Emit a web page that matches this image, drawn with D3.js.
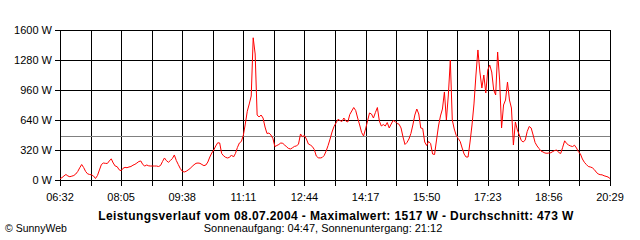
<!DOCTYPE html>
<html>
<head>
<meta charset="utf-8">
<script src="https://cdn.jsdelivr.net/npm/d3@7"></script>
<style>
  body { margin: 0; background: #fff; }
  text { font-family: "Liberation Sans", Arial, sans-serif; }
</style>
</head>
<body>
<svg id="chart"></svg>
<script>
// power readings in W, one every 3 minutes starting 06:32
const startTime = "06:32"
const stepMinutes = 3
const power = [
  14, 25, 43, 59, 43, 35, 41, 48, 64, 91, 130, 165, 133, 91, 66, 59, 55, 43, 16, 48,
  107, 165, 181, 178, 176, 203, 226, 181, 149, 142, 109, 99, 125, 135, 131, 139, 144, 158, 167, 181,
  197, 203, 165, 149, 160, 151, 149, 149, 149, 149, 144, 155, 197, 235, 206, 189, 208, 229, 267, 208,
  165, 123, 94, 85, 93, 107, 123, 144, 163, 178, 181, 178, 165, 153, 160, 192, 245, 288, 320, 363,
  397, 395, 283, 258, 242, 235, 242, 267, 245, 283, 347, 395, 411, 477, 597, 733, 811, 896, 1517, 1344,
  693, 672, 693, 661, 565, 496, 501, 480, 443, 357, 368, 379, 395, 391, 373, 352, 336, 331, 345, 359,
  363, 384, 491, 462, 475, 437, 384, 373, 357, 325, 256, 237, 235, 240, 261, 309, 368, 437, 512, 571,
  608, 647, 635, 624, 661, 629, 619, 699, 736, 773, 741, 661, 587, 507, 469, 544, 629, 715, 704, 661,
  720, 773, 629, 576, 592, 576, 613, 555, 597, 635, 624, 603, 595, 555, 459, 379, 400, 437, 496, 587,
  693, 757, 704, 555, 549, 405, 368, 411, 389, 277, 272, 427, 576, 683, 757, 939, 640, 907, 1280, 640,
  544, 475, 443, 411, 341, 277, 245, 245, 405, 587, 811, 1120, 1387, 1152, 981, 1120, 928, 1173, 1227, 1152,
  960, 907, 1365, 1067, 555, 800, 853, 1045, 853, 768, 373, 619, 533, 480, 421, 405, 427, 517, 571, 555,
  480, 400, 363, 336, 309, 299, 288, 285, 288, 291, 304, 315, 320, 293, 283, 349, 418, 389, 373, 363,
  357, 371, 341, 301, 277, 224, 189, 165, 144, 139, 131, 112, 85, 64, 57, 55, 45, 39, 32, 16
]
const yTicks = [0, 320, 640, 960, 1280, 1600]
const xTickLabels = ["06:32", "08:05", "09:38", "11:11", "12:44", "14:17", "15:50", "17:23", "18:56", "20:29"]
const average = 473
const maximum = 1517
const title = "Leistungsverlauf vom 08.07.2004 - Maximalwert: " + maximum + " W - Durchschnitt: " + average + " W"
const subtitle = "Sonnenaufgang: 04:47, Sonnenuntergang: 21:12"
const credit = "\u00A9 SunnyWeb"

const width = 640, height = 240
const plotL = 60, plotR = 610, plotT = 30, plotB = 180

const parseT = d3.timeParse("%H:%M")
const t0 = parseT(startTime)
const data = power.map((v, i) => ({ t: d3.timeMinute.offset(t0, i * stepMinutes), v }))
const tEnd = parseT(xTickLabels[xTickLabels.length - 1])

const x = d3.scaleTime().domain([t0, tEnd]).range([plotL, plotR])
const y = d3.scaleLinear().domain([0, 1600]).range([plotB, plotT])

// grid every 46.5 min, labels on every second line
const gridTimes = d3.range(0, 19).map(k => new Date(t0.getTime() + k * 46.5 * 60000))

const svg = d3.select("#chart")
  .attr("width", width)
  .attr("height", height)
  .attr("viewBox", [0, 0, width, height])

svg.append("rect").attr("width", width).attr("height", height).attr("fill", "#fff")

const grid = svg.append("g").attr("shape-rendering", "crispEdges")
grid.selectAll(".h")
  .data(yTicks)
  .join("line")
    .attr("x1", plotL - 5)
    .attr("x2", plotR)
    .attr("y1", d => Math.round(y(d)) + 0.5)
    .attr("y2", d => Math.round(y(d)) + 0.5)
    .attr("stroke", "#000")
grid.selectAll(".v")
  .data(gridTimes)
  .join("line")
    .attr("x1", d => Math.round(x(d)) + 0.5)
    .attr("x2", d => Math.round(x(d)) + 0.5)
    .attr("y1", plotT)
    .attr("y2", plotB + 6)
    .attr("stroke", "#000")

svg.append("line")
  .attr("shape-rendering", "crispEdges")
  .attr("x1", plotL + 1).attr("x2", plotR)
  .attr("y1", Math.round(y(average)) + 0.5).attr("y2", Math.round(y(average)) + 0.5)
  .attr("stroke", "#808080")

svg.selectAll(".ylab")
  .data(yTicks)
  .join("text")
    .attr("x", 52)
    .attr("y", d => y(d) + 4)
    .attr("text-anchor", "end")
    .attr("font-size", 11)
    .text(d => d + " W")

svg.selectAll(".xlab")
  .data(xTickLabels)
  .join("text")
    .attr("x", d => x(parseT(d)))
    .attr("y", 201)
    .attr("text-anchor", "middle")
    .attr("font-size", 11)
    .text(d => d)

const line = d3.line()
  .x(d => x(d.t))
  .y(d => y(d.v))

svg.append("path")
  .datum(data)
  .attr("d", line)
  .attr("fill", "none")
  .attr("stroke", "#ff0000")
  .attr("stroke-width", 1)

svg.append("text")
  .attr("x", 336)
  .attr("y", 220)
  .attr("text-anchor", "middle")
  .attr("font-size", 12)
  .attr("letter-spacing", 0.4)
  .attr("font-weight", "bold")
  .text(title)

svg.append("text")
  .attr("x", 323)
  .attr("y", 232)
  .attr("text-anchor", "middle")
  .attr("font-size", 11)
  .text(subtitle)

svg.append("text")
  .attr("x", 5)
  .attr("y", 232)
  .attr("font-size", 10.5)
  .text(credit)
</script>
</body>
</html>
